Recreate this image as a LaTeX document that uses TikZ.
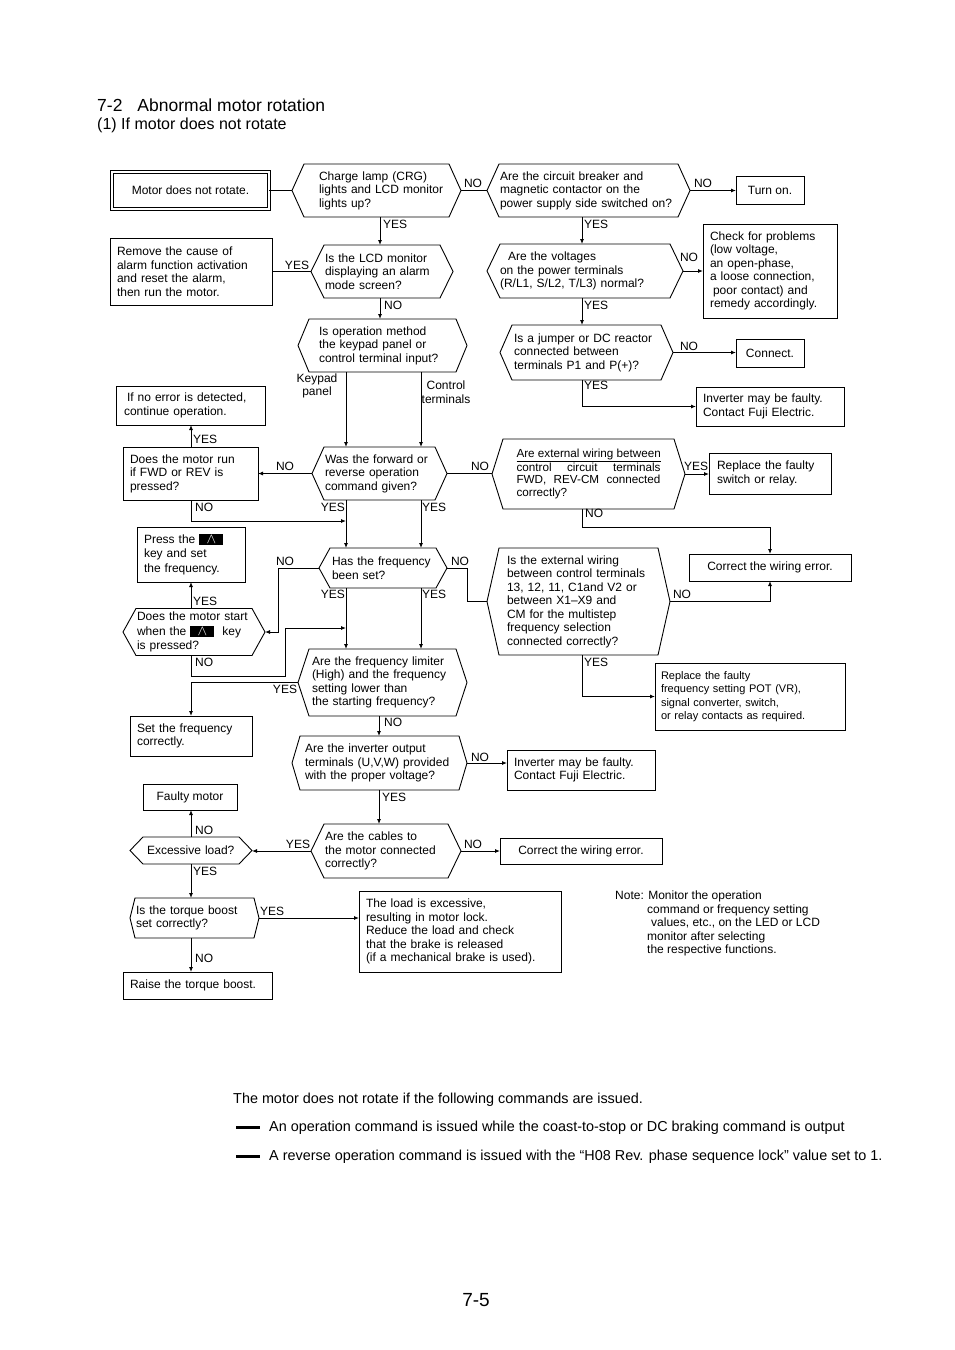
\documentclass[tikz,border=0pt]{standalone}
\usepackage{fontspec}
\setmainfont{Liberation Sans}
\usetikzlibrary{arrows.meta,calc}
\hyphenpenalty=10000
\exhyphenpenalty=10000
\newcommand\fs{\fontsize{12}{13.5}\selectfont}
\newcommand\fsa{\fontsize{11}{13.5}\selectfont}
\newcommand\fsb{\fontsize{11.7}{12.7}\selectfont}
\newcommand\fsk{\fontsize{12}{14.5}\selectfont}
\newcommand\keyup{{\setlength\fboxsep{0pt}\colorbox{black}{\makebox[24pt]{\rule[-2pt]{0pt}{11pt}\textcolor{white}{\scalebox{1.2}{$\wedge$}}}}}}
\newcommand\hexd[2]{\draw[ln] ([xshift=#2]#1.north west) -- ([xshift=-#2]#1.north east) -- (#1.east) -- ([xshift=-#2]#1.south east) -- ([xshift=#2]#1.south west) -- (#1.west) -- cycle;}
\begin{document}
\begin{tikzpicture}[x=1pt,y=-1pt,
  ln/.style={line width=0.9pt},
  arr/.style={ln,-{Latex[length=5pt,width=4pt]}},
  hx/.style n args={3}{font=\fs,inner ysep=0pt,inner xsep=0pt,outer sep=0pt,align=left,minimum width=#1pt,minimum height=#2pt,text width=#1pt,execute at begin node={\leftskip=#3pt\relax}},
  bx/.style n args={3}{draw,ln,font=\fs,inner ysep=0pt,inner xsep=0pt,outer sep=0pt,align=left,minimum width=#1pt,minimum height=#2pt,text width=#1pt,execute at begin node={\leftskip=#3pt\relax}},
  bc/.style={draw,ln,font=\fs,inner sep=0pt,outer sep=0pt,align=center},
  lb/.style={font=\fs,inner sep=0pt}]
\useasboundingbox[fill=white] (0,0) rectangle (954,1350);

% titles
\node[anchor=west,font=\fontsize{17.5}{20}\selectfont,inner sep=0pt] (title) at (97,105) {7-2\hspace{15pt}Abnormal motor rotation};
\node[anchor=west,font=\fontsize{16}{18}\selectfont,inner sep=0pt] (subtitle) at (97,125) {(1) If motor does not rotate};

% column coordinates
\coordinate (xA) at (380,0);
\coordinate (xK) at (346,0);
\coordinate (xC) at (421,0);
\coordinate (xR) at (582,0);
\coordinate (xL) at (191,0);
\coordinate (xM) at (379,0);
\coordinate (x278) at (278,0);
\coordinate (x467) at (467,0);
\coordinate (j1) at (346,521);
\coordinate (j2) at (346,628);
\coordinate (k1) at (285,676);

% start
\node[bc,double,double distance=2.6pt,minimum width=157pt,minimum height=37pt] (start) at (190.5,190.5) {Motor does not rotate.};

% hexagon decisions
\node[hx={169}{53}{27}] (d1) at (376.5,190.5) {Charge lamp (CRG)\\lights and LCD monitor\\lights up?};
\hexd{d1}{12}
\node[hx={203}{53}{13}] (d2) at (588.5,190.5) {Are the circuit breaker and\\magnetic contactor on the\\power supply side switched on?};
\hexd{d2}{12}
\node[hx={142}{53}{14}] (d3) at (382,271.5) {Is the LCD monitor\\displaying an alarm\\mode screen?};
\hexd{d3}{13}
\node[hx={169}{53}{21}] (d4) at (382.5,345.5) {Is operation method\\the keypad panel or\\control terminal input?};
\hexd{d4}{11}
\node[hx={196}{54}{13}] (d5) at (585,271) {\hspace*{8pt}Are the voltages\\on the power terminals\\(R/L1, S/L2, T/L3) normal?};
\hexd{d5}{13}
\node[hx={173}{55}{14}] (d6) at (586.5,352.5) {Is a jumper or DC reactor\\connected between\\terminals P1 and P(+)?};
\hexd{d6}{12}
\node[hx={135}{53}{13}] (d7) at (379.5,473.5) {Was the forward or\\reverse operation\\command given?};
\hexd{d7}{12}
\node[font=\fsb,inner sep=0pt,outer sep=0pt,align=justify,minimum width=193pt,minimum height=70pt,text width=193pt,execute at begin node={\leftskip=24.5pt\rightskip=24.5pt\relax}] (d8) at (588.5,474) {\underline{Are external wiring between}\linebreak control circuit terminals\linebreak FWD, REV-CM connected\linebreak correctly?};
\hexd{d8}{11}
\node[hx={128}{40}{13}] (d9) at (383,568) {Has the frequency\\been set?};
\hexd{d9}{11}
\node[hx={183}{107}{20}] (d10) at (578.5,601.5) {Is the external wiring\\between control terminals\\13, 12, 11, C1and V2 or\\between X1--X9 and\\CM for the multistep\\frequency selection\\connected correctly?};
\hexd{d10}{12}
\node[hx={142}{47}{14},font=\fsk] (d11) at (194,632) {Does the motor start\\when the \keyup\ \ key\\is pressed?};
\hexd{d11}{13}
\node[hx={169}{67}{14}] (d12) at (382.5,682.5) {Are the frequency limiter\\(High) and the frequency\\setting lower than\\the starting frequency?};
\hexd{d12}{11}
\node[hx={175}{54}{13}] (d13) at (379.5,763) {Are the inverter output\\terminals (U,V,W) provided\\with the proper voltage?};
\hexd{d13}{8}
\node[hx={122}{27}{17}] (d14) at (191,850.5) {Excessive load?};
\hexd{d14}{13}
\node[hx={150}{54}{14}] (d15) at (386,851) {Are the cables to\\the motor connected\\correctly?};
\hexd{d15}{13}
\node[hx={129}{40}{6}] (d16) at (194.5,918) {Is the torque boost\\set correctly?};
\hexd{d16}{5}

% boxes
\node[bc,minimum width=68pt,minimum height=28pt] (turnon) at (770,190) {Turn on.};
\node[bx={162}{67}{7}] (remove) at (191,271.5) {Remove the cause of\\alarm function activation\\and reset the alarm,\\then run the motor.};
\node[bx={134}{94}{7}] (check) at (770,271) {Check for problems\\(low voltage,\\an open-phase,\\a loose connection,\\\hspace*{3pt}poor contact) and\\remedy accordingly.};
\node[bc,minimum width=68pt,minimum height=28pt] (connect) at (770,353) {Connect.};
\node[bx={148}{39}{7}] (inv1) at (770,406.5) {Inverter may be faulty.\\Contact Fuji Electric.};
\node[bx={149}{39}{8}] (noerr) at (190.5,405.5) {\hspace*{3pt}If no error is detected,\\continue operation.};
\node[bx={135}{53}{7}] (run) at (190.5,473.5) {Does the motor run\\if FWD or REV is\\pressed?};
\node[bx={122}{41}{8}] (rsw) at (770,473.5) {Replace the faulty\\switch or relay.};
\node[bx={108}{55}{7},font=\fsk] (press) at (191,554.5) {Press the \keyup\\key and set\\the frequency.};
\node[bc,minimum width=162pt,minimum height=27pt] (cw1) at (770,567.5) {Correct the wiring error.};
\node[bx={190}{67}{6},font=\fsa] (rpot) at (750,696.5) {Replace the faulty\\frequency setting POT (VR),\\signal converter, switch,\\or relay contacts as required.};
\node[bx={122}{40}{7}] (setf) at (191,736) {Set the frequency\\correctly.};
\node[bx={148}{40}{7}] (inv2) at (581,770) {Inverter may be faulty.\\Contact Fuji Electric.};
\node[bc,minimum width=94pt,minimum height=26pt] (faulty) at (190,797) {Faulty motor};
\node[bc,minimum width=162pt,minimum height=26pt] (cw2) at (581,851) {Correct the wiring error.};
\node[bx={202}{81}{7}] (load) at (460,931.5) {The load is excessive,\\resulting in motor lock.\\Reduce the load and check\\that the brake is released\\(if a mechanical brake is used).};
\node[bx={149}{27}{7}] (raise) at (197.5,985.5) {Raise the torque boost.};

% connectors
\draw[ln] (start.east) -- (start.east -| d1.west);
\draw[ln] (d1.east) -- (d1.east -| d2.west);
\draw[arr] (d2.east) -- (d2.east -| turnon.west);
\draw[arr] (d1.south -| xA) -- (d3.north -| xA);
\draw[ln] (d3.west) -- (d3.west -| remove.east);
\draw[arr] (d3.south -| xA) -- (d4.north -| xA);
\draw[arr] (d4.south -| xK) -- (d7.north -| xK);
\draw[arr] (d4.south -| xC) -- (d7.north -| xC);
\draw[arr] (d2.south -| xR) -- (d5.north -| xR);
\draw[arr] (d5.east) -- (d5.east -| check.west);
\draw[arr] (d5.south -| xR) -- (d6.north -| xR);
\draw[arr] (d6.east) -- (d6.east -| connect.west);
\draw[arr] (d6.south -| xR) |- (inv1.west);
\draw[arr] (d7.west) -- (d7.west -| run.east);
\draw[arr] (run.north -| xL) -- (noerr.south -| xL);
\draw[arr] (run.south -| xL) |- (j1);
\draw[arr] (d7.south -| xK) -- (d9.north -| xK);
\draw[arr] (d7.south -| xC) -- (d9.north -| xC);
\draw[ln] (d7.east) -- (d7.east -| d8.west);
\draw[arr] (d8.east) -- (d8.east -| rsw.west);
\draw[arr] (d8.south -| xR) -- ++(0,18) -| (cw1.north);
\draw[arr] (d9.west) -- (d9.west -| x278) |- (d11.east);
\draw[ln] (d9.east) -- (d9.east -| x467) |- (d10.west);
\draw[arr] (d9.south -| xK) -- (d12.north -| xK);
\draw[arr] (d9.south -| xC) -- (d12.north -| xC);
\draw[arr] (d11.north -| xL) -- (press.south -| xL);
\draw[arr] (d11.south -| xL) |- (k1) |- (j2);
\draw[arr] (d10.east) -| (cw1.south);
\draw[arr] (d10.south -| xR) |- (rpot.west);
\draw[arr] (d12.west) -| (setf.north);
\draw[arr] (d12.south -| xM) -- (d13.north -| xM);
\draw[arr] (d13.east) -- (d13.east -| inv2.west);
\draw[arr] (d13.south -| xM) -- (d15.north -| xM);
\draw[arr] (d15.west) -- (d15.west -| d14.east);
\draw[arr] (d15.east) -- (d15.east -| cw2.west);
\draw[arr] (d14.north -| xL) -- (faulty.south -| xL);
\draw[arr] (d14.south -| xL) -- (d16.north -| xL);
\draw[arr] (d16.east) -- (d16.east -| load.west);
\draw[arr] (d16.south -| xL) -- (raise.north -| xL);

% labels
\node[lb] at (473,183) {NO};
\node[lb] at (703,183) {NO};
\node[lb,anchor=west] at (383,224) {YES};
\node[lb] at (297,265) {YES};
\node[lb,anchor=west] at (384,305) {NO};
\node[lb,align=center] at (317,386) {Keypad\\panel};
\node[lb,align=center] at (446,392) {Control\\terminals};
\node[lb,anchor=west] at (584,224) {YES};
\node[lb] at (689,257) {NO};
\node[lb,anchor=west] at (584,305) {YES};
\node[lb] at (689,346) {NO};
\node[lb,anchor=west] at (584,385) {YES};
\node[lb,anchor=west] at (193,439) {YES};
\node[lb] at (285,466) {NO};
\node[lb,anchor=west] at (195,507) {NO};
\node[lb,anchor=east] at (345,507) {YES};
\node[lb,anchor=west] at (422,507) {YES};
\node[lb] at (480,466) {NO};
\node[lb] at (696,466) {YES};
\node[lb,anchor=west] at (585,513) {NO};
\node[lb] at (285,561) {NO};
\node[lb] at (460,561) {NO};
\node[lb,anchor=east] at (345,594) {YES};
\node[lb,anchor=west] at (422,594) {YES};
\node[lb,anchor=west] at (193,601) {YES};
\node[lb,anchor=west] at (195,662) {NO};
\node[lb] at (682,594) {NO};
\node[lb,anchor=west] at (584,662) {YES};
\node[lb] at (285,689) {YES};
\node[lb,anchor=west] at (384,722) {NO};
\node[lb] at (480,757) {NO};
\node[lb,anchor=west] at (382,797) {YES};
\node[lb] at (298,844) {YES};
\node[lb] at (473,844) {NO};
\node[lb,anchor=west] at (195,830) {NO};
\node[lb,anchor=west] at (193,871) {YES};
\node[lb,anchor=west] at (260,911) {YES};
\node[lb,anchor=west] at (195,958) {NO};

% note
\node[lb,anchor=north west,align=left] (note) at (615,891) {Note: Monitor the operation\\\hspace*{32pt}command or frequency setting\\\hspace*{36pt}values, etc., on the LED or LCD\\\hspace*{32pt}monitor after selecting\\\hspace*{32pt}the respective functions.};

% bottom text
\node[anchor=west,inner sep=0pt,font=\fontsize{14.4}{17}\selectfont] (b0) at (233,1100) {The motor does not rotate if the following commands are issued.};
\node[anchor=west,inner sep=0pt,font=\fontsize{14.4}{17}\selectfont] (b1) at (269,1128) {An operation command is issued while the coast-to-stop or DC braking command is output};
\node[anchor=west,inner sep=0pt,font=\fontsize{14.4}{17}\selectfont] (b2) at (269,1157) {A reverse operation command is issued with the \textquotedblleft H08 Rev. phase sequence lock\textquotedblright\ value set to 1.};
\draw[line width=3pt] (236,1127) -- (260,1127);
\draw[line width=3pt] (236,1156) -- (260,1156);
\node[inner sep=0pt,font=\fontsize{19}{22}\selectfont] (page) at (476,1300) {7-5};
\end{tikzpicture}
\end{document}
